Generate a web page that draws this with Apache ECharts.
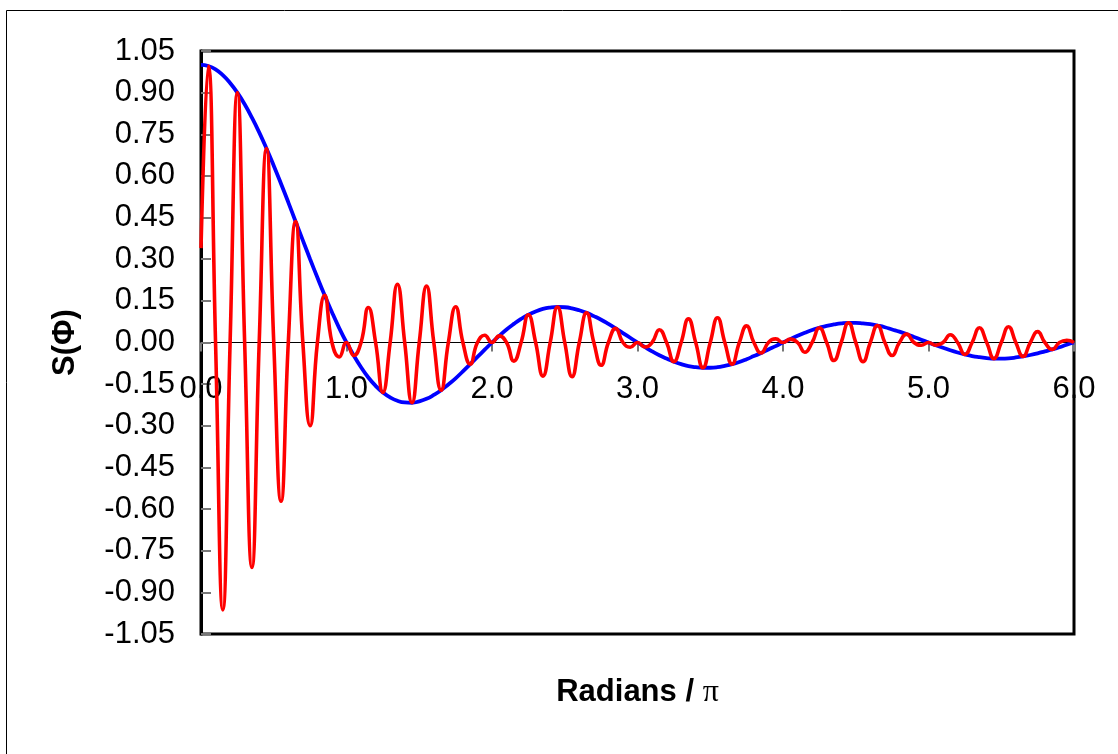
<!DOCTYPE html>
<html>
<head>
<meta charset="utf-8">
<script src="https://cdn.jsdelivr.net/npm/echarts@6/dist/echarts.min.js"></script>
<style>
html,body{margin:0;padding:0;background:#fff;}
#chart{width:1118px;height:754px;}
</style>
</head>
<body>
<div id="chart"></div>
<script>
// x positions (Radians / pi), step 0.05
var xValues = [
0.00,0.05,0.10,0.15,0.20,0.25,0.30,0.35,0.40,0.45,
0.50,0.55,0.60,0.65,0.70,0.75,0.80,0.85,0.90,0.95,
1.00,1.05,1.10,1.15,1.20,1.25,1.30,1.35,1.40,1.45,
1.50,1.55,1.60,1.65,1.70,1.75,1.80,1.85,1.90,1.95,
2.00,2.05,2.10,2.15,2.20,2.25,2.30,2.35,2.40,2.45,
2.50,2.55,2.60,2.65,2.70,2.75,2.80,2.85,2.90,2.95,
3.00,3.05,3.10,3.15,3.20,3.25,3.30,3.35,3.40,3.45,
3.50,3.55,3.60,3.65,3.70,3.75,3.80,3.85,3.90,3.95,
4.00,4.05,4.10,4.15,4.20,4.25,4.30,4.35,4.40,4.45,
4.50,4.55,4.60,4.65,4.70,4.75,4.80,4.85,4.90,4.95,
5.00,5.05,5.10,5.15,5.20,5.25,5.30,5.35,5.40,5.45,
5.50,5.55,5.60,5.65,5.70,5.75,5.80,5.85,5.90,5.95,
6.00
];
// blue envelope curve
var blueValues = [
1.000,0.996,0.984,0.963,0.935,0.900,0.858,0.810,0.757,0.699,
0.637,0.572,0.505,0.436,0.368,0.300,0.234,0.170,0.109,0.052,
0.000,-0.047,-0.089,-0.126,-0.156,-0.180,-0.198,-0.210,-0.216,-0.217,
-0.212,-0.203,-0.189,-0.172,-0.151,-0.129,-0.104,-0.078,-0.052,-0.026,
0.000,0.024,0.047,0.067,0.085,0.100,0.112,0.121,0.126,0.128,
0.127,0.123,0.116,0.107,0.095,0.082,0.067,0.051,0.034,0.017,
0.000,-0.016,-0.032,-0.046,-0.058,-0.069,-0.078,-0.085,-0.089,-0.091,
-0.091,-0.089,-0.084,-0.078,-0.070,-0.060,-0.049,-0.038,-0.025,-0.013,
0.000,0.012,0.024,0.035,0.045,0.053,0.060,0.065,0.069,0.071,
0.071,0.069,0.066,0.061,0.055,0.047,0.039,0.030,0.020,0.010,
0.000,-0.010,-0.019,-0.028,-0.036,-0.043,-0.049,-0.053,-0.056,-0.058,
-0.058,-0.057,-0.054,-0.050,-0.045,-0.039,-0.032,-0.025,-0.017,-0.008,
0.000
];
// red oscillating curve
var redValues = [
0.340,0.996,0,-0.963,0,0.900,0,-0.810,0,0.699,
0,-0.572,0,0.436,0,-0.300,0,0.170,0,-0.052,
0,-0.047,0,0.126,0,-0.180,0,0.210,0,-0.217,
0,0.203,0,-0.172,0,0.129,0,-0.078,0,0.026,
0,0.024,0,-0.067,0,0.100,0,-0.121,0,0.128,
0,-0.123,0,0.107,0,-0.082,0,0.051,0,-0.017,
0,-0.016,0,0.046,0,-0.069,0,0.085,0,-0.091,
0,0.089,0,-0.078,0,0.060,0,-0.038,0,0.013,
0,0.012,0,-0.035,0,0.053,0,-0.065,0,0.071,
0,-0.069,0,0.061,0,-0.047,0,0.030,0,-0.010,
0,-0.010,0,0.028,0,-0.043,0,0.053,0,-0.058,
0,0.057,0,-0.050,0,0.039,0,-0.025,0,0.008,
0
];
var yAxisTitle = 'S(\u03A6)';
var xAxisTitle = 'Radians / {p|\u03C0}';

var FONT = "'Liberation Sans', Arial, sans-serif";
function pairs(ys){ return xValues.map(function(x,i){ return [x, ys[i]]; }); }

var chart = echarts.init(document.getElementById('chart'), null, {renderer:'canvas'});
chart.setOption({
  animation: false,
  backgroundColor: '#fff',
  graphic: [{
    type: 'rect', silent: true,
    shape: {x: 6.5, y: 10.5, width: 1300, height: 1000},
    style: {fill: 'none', stroke: '#000', lineWidth: 1}
  }],
  grid: {
    left: 201, right: 44, top: 51, bottom: 120,
    containLabel: false, outerBoundsMode: 'none',
    show: true, borderColor: '#000', borderWidth: 3, backgroundColor: 'transparent'
  },
  xAxis: {
    type: 'value', min: 0, max: 6, interval: 1,
    position: 'bottom', offset: -291.5,
    name: xAxisTitle, nameLocation: 'middle', nameGap: 334,
    nameTextStyle: {
      fontFamily: FONT, fontSize: 31, fontWeight: 'bold', color: '#000',
      rich: {p: {fontFamily: "'Liberation Serif', 'DejaVu Serif', serif", fontSize: 32, fontWeight: 'normal', color: '#000'}}
    },
    axisLine: {show: true, onZero: false, lineStyle: {color: '#000', width: 1}},
    axisTick: {show: true, inside: false, length: 9, lineStyle: {color: '#777', width: 2}},
    axisLabel: {
      fontFamily: FONT, fontSize: 31, color: '#000', margin: 31,
      showMinLabel: true, showMaxLabel: true, hideOverlap: false,
      formatter: function(v){ return v.toFixed(1); }
    },
    splitLine: {show: false}
  },
  yAxis: {
    type: 'value', min: -1.05, max: 1.05, interval: 0.15,
    name: yAxisTitle, nameLocation: 'middle', nameGap: 120, nameRotate: 90,
    nameTextStyle: {fontFamily: FONT, fontSize: 31, fontWeight: 'bold', color: '#000'},
    axisLine: {show: true, onZero: false, lineStyle: {color: '#000', width: 3}},
    axisTick: {show: true, inside: true, length: 10, lineStyle: {color: '#777', width: 2}},
    axisLabel: {
      fontFamily: FONT, fontSize: 31, color: '#000', margin: 26,
      showMinLabel: true, showMaxLabel: true, hideOverlap: false,
      formatter: function(v){ if (Math.abs(v) < 1e-9) return '0.00'; return v.toFixed(2); }
    },
    splitLine: {show: false}
  },
  series: [
    {
      name: 'envelope', type: 'line', data: pairs(blueValues),
      smooth: true, showSymbol: false, symbol: 'none',
      lineStyle: {color: '#0000FF', width: 3.8}, z: 2
    },
    {
      name: 'signal', type: 'line', data: pairs(redValues),
      smooth: 0.5, showSymbol: false, symbol: 'none',
      lineStyle: {color: '#FF0000', width: 3.6}, z: 3
    }
  ]
});
</script>
</body>
</html>
